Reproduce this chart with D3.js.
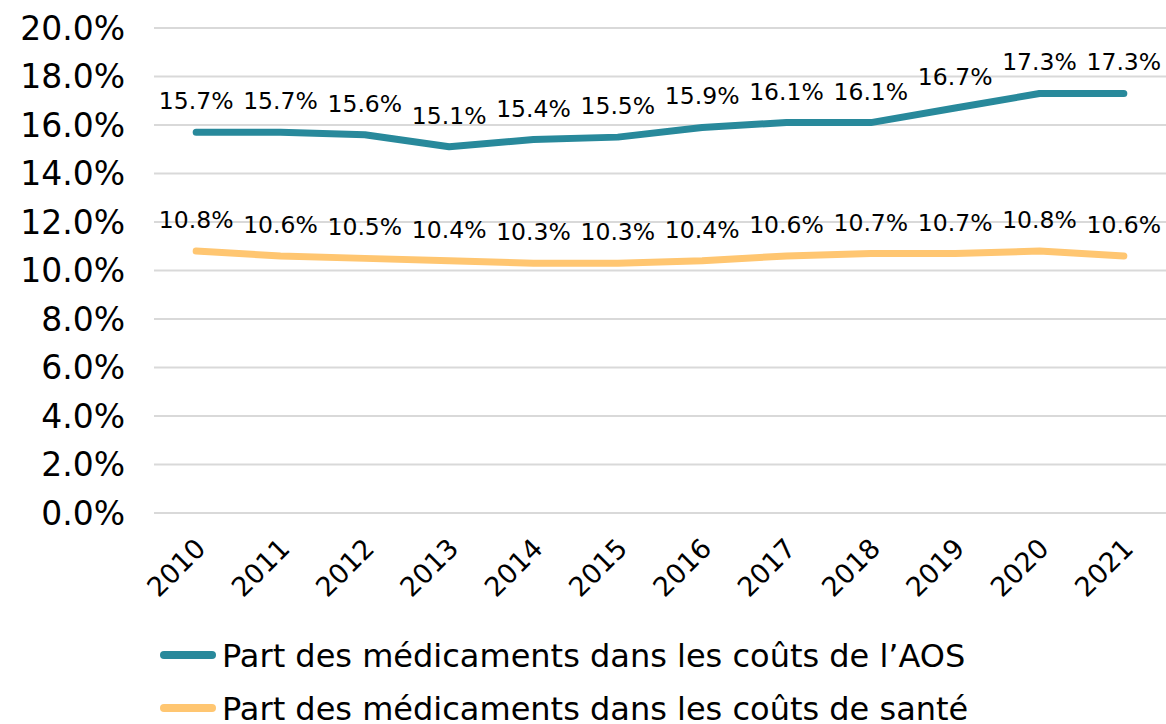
<!DOCTYPE html>
<html>
<head>
<meta charset="utf-8">
<script src="https://cdn.jsdelivr.net/npm/d3@7"></script>
<style>
  body { margin: 0; background: #fff; }
  text { font-family: "DejaVu Sans", Verdana, sans-serif; fill: #000; }
</style>
</head>
<body>
<script>
const years = ['2010', '2011', '2012', '2013', '2014', '2015', '2016', '2017', '2018', '2019', '2020', '2021'];
const partAOS = [15.7, 15.7, 15.6, 15.1, 15.4, 15.5, 15.9, 16.1, 16.1, 16.7, 17.3, 17.3];
const partSante = [10.8, 10.6, 10.5, 10.4, 10.3, 10.3, 10.4, 10.6, 10.7, 10.7, 10.8, 10.6];
const yTicks = [0, 2, 4, 6, 8, 10, 12, 14, 16, 18, 20];
const seriesNames = [
  'Part des médicaments dans les coûts de l’AOS',
  'Part des médicaments dans les coûts de santé'
];
const colors = ['#28899b', '#ffc671'];

const svgWidth = 1166, svgHeight = 724;
const plotLeft = 154, plotRight = 1166, plotTop = 28, plotBottom = 513;

const svg = d3.select('body')
  .append('svg')
  .attr('width', svgWidth)
  .attr('height', svgHeight);

const x = d3.scaleBand()
  .domain(years)
  .range([plotLeft, plotRight]);

const y = d3.scaleLinear()
  .domain([0, 20])
  .range([plotBottom, plotTop]);

// gridlines
svg.append('g')
  .selectAll('line')
  .data(yTicks)
  .enter()
  .append('line')
  .attr('x1', plotLeft)
  .attr('x2', plotRight)
  .attr('y1', d => y(d))
  .attr('y2', d => y(d))
  .attr('stroke', '#d9d9d9')
  .attr('stroke-width', 2);

// y labels
svg.append('g')
  .selectAll('text')
  .data(yTicks)
  .enter()
  .append('text')
  .attr('x', 125)
  .attr('y', d => y(d))
  .attr('dy', '0.36em')
  .attr('text-anchor', 'end')
  .style('font-size', '33px')
  .text(d => d.toFixed(1) + '%');

// x labels
svg.append('g')
  .selectAll('text')
  .data(years)
  .enter()
  .append('text')
  .attr('text-anchor', 'end')
  .attr('transform', d => `translate(${x(d) + x.bandwidth() / 2 + 11}, 550) rotate(-45)`)
  .style('font-size', '27px')
  .text(d => d);

const cx = (_, i) => x(years[i]) + x.bandwidth() / 2;
const line = d3.line()
  .x(cx)
  .y(d => y(d));

[partAOS, partSante].forEach((values, k) => {
  svg.append('path')
    .datum(values)
    .attr('fill', 'none')
    .attr('stroke', colors[k])
    .attr('stroke-width', 7)
    .attr('stroke-linejoin', 'round')
    .attr('stroke-linecap', 'round')
    .attr('d', line);

  svg.append('g')
    .selectAll('text')
    .data(values)
    .enter()
    .append('text')
    .attr('x', cx)
    .attr('y', d => y(d) - 23)
    .attr('text-anchor', 'middle')
    .style('font-size', '23.5px')
    .text(d => d.toFixed(1) + '%');
});

// legend
const legend = svg.append('g')
  .selectAll('g')
  .data(seriesNames)
  .enter()
  .append('g')
  .attr('transform', (_, i) => `translate(0, ${655 + i * 53})`);

legend.append('line')
  .attr('x1', 164)
  .attr('x2', 212)
  .attr('stroke', (_, i) => colors[i])
  .attr('stroke-width', 8)
  .attr('stroke-linecap', 'round');

legend.append('text')
  .attr('x', 222)
  .attr('dy', '0.36em')
  .style('font-size', '32px')
  .text(d => d);
</script>
</body>
</html>
